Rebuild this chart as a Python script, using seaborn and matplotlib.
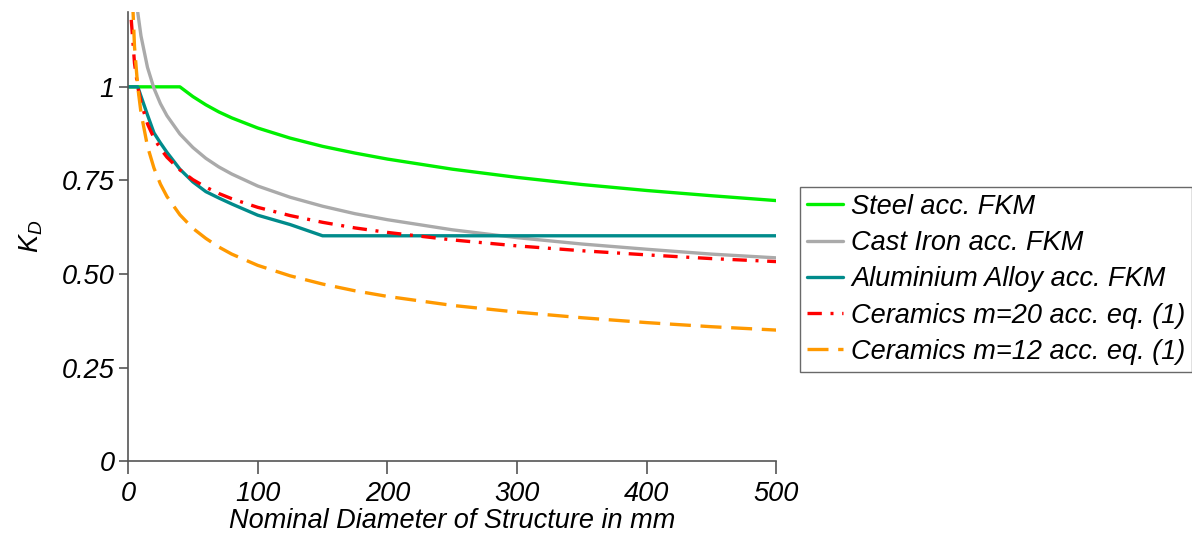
import matplotlib
matplotlib.use("Agg")
import matplotlib.pyplot as plt
import pandas as pd
import seaborn as sns

# Values (K_D over nominal diameter in mm)
steel_d = [0, 10, 20, 30, 40, 50, 60, 70, 80, 100, 125, 150, 175, 200, 250, 300, 350, 400, 450, 500]
steel_k = [1.0, 1.0, 1.0, 1.0, 1.0, 0.974, 0.952, 0.933, 0.917, 0.890, 0.863, 0.841, 0.823, 0.807,
           0.780, 0.758, 0.739, 0.723, 0.709, 0.696]

iron_d = [5, 7.5, 10, 15, 20, 25, 30, 40, 50, 60, 70, 80, 100, 125, 150, 175, 200, 250, 300, 350, 400, 450, 500]
iron_k = [1.295, 1.199, 1.136, 1.052, 0.996, 0.955, 0.923, 0.874, 0.838, 0.809, 0.786, 0.767, 0.735,
          0.705, 0.681, 0.661, 0.645, 0.618, 0.597, 0.580, 0.566, 0.553, 0.543]

alu_d = [0, 7.5, 10, 15, 20, 25, 30, 40, 50, 60, 70, 80, 100, 125, 150, 200, 300, 400, 500]
alu_k = [1.0, 1.0, 0.975, 0.925, 0.877, 0.850, 0.825, 0.780, 0.746, 0.720, 0.703, 0.687, 0.657,
         0.632, 0.602, 0.602, 0.602, 0.602, 0.602]

cer_d = [2.5, 5, 7.5, 10, 15, 20, 25, 30, 40, 50, 60, 70, 80, 100, 125, 150, 175, 200, 250, 300, 350, 400, 450, 500]
cer20_k = [1.179, 1.063, 1.0, 0.958, 0.901, 0.863, 0.835, 0.812, 0.778, 0.752, 0.732, 0.715, 0.701,
           0.678, 0.656, 0.638, 0.623, 0.611, 0.591, 0.575, 0.562, 0.551, 0.541, 0.533]
cer12_k = [1.316, 1.107, 1.0, 0.931, 0.841, 0.783, 0.740, 0.707, 0.658, 0.622, 0.595, 0.572, 0.553,
           0.523, 0.495, 0.473, 0.455, 0.440, 0.416, 0.398, 0.383, 0.370, 0.359, 0.350]

labels = [
    "Steel acc. FKM",
    "Cast Iron acc. FKM",
    "Aluminium Alloy acc. FKM",
    "Ceramics m=20 acc. eq. (1)",
    "Ceramics m=12 acc. eq. (1)",
]
colors = ["#00f000", "#aaaaaa", "#008b8b", "#ff0000", "#ff9900"]

sns.set_style("ticks")
plt.rcParams["font.family"] = ["Liberation Sans", "DejaVu Sans"]
plt.rcParams["font.style"] = "italic"
plt.rcParams["text.color"] = "black"
plt.rcParams["axes.labelcolor"] = "black"
plt.rcParams["xtick.labelcolor"] = "black"
plt.rcParams["ytick.labelcolor"] = "black"
plt.rcParams["mathtext.fontset"] = "custom"
plt.rcParams["mathtext.it"] = "Liberation Sans:italic"
plt.rcParams["mathtext.rm"] = "Liberation Sans:italic"

fs = 19.5

fig = plt.figure(figsize=(11.92, 5.45), dpi=100)
ax = fig.add_axes([0.1074, 0.154, 0.544, 0.824])

series = [
    (steel_d, steel_k),
    (iron_d, iron_k),
    (alu_d, alu_k),
    (cer_d, cer20_k),
    (cer_d, cer12_k),
]
for (d, k), lab, col in zip(series, labels, colors):
    df = pd.DataFrame({"d": d, "k": k})
    sns.lineplot(data=df, x="d", y="k", ax=ax, color=col, linewidth=2.4, label=lab)

lines = ax.get_lines()
lines[3].set_dashes([4.3, 2.6, 0.9, 2.6])
lines[4].set_dashes([6.3, 2.9])

ax.set_xlim(0, 500)
ax.set_ylim(0, 1.2)
ax.set_xticks([0, 100, 200, 300, 400, 500])
ax.set_yticks([0, 0.25, 0.5, 0.75, 1.0])
ax.set_yticklabels(["0", "0.25", "0.50", "0.75", "1"])
ax.set_xlabel("Nominal Diameter of Structure in mm", fontsize=fs, labelpad=1)
ax.set_ylabel(r"$K_D$", fontsize=fs, labelpad=12)

sns.despine(ax=ax)
for side in ["left", "bottom"]:
    ax.spines[side].set_color("#555555")
    ax.spines[side].set_linewidth(1.2)
ax.tick_params(axis="x", direction="out", length=9, width=1.2, color="#555555",
               labelsize=fs, pad=5)
ax.tick_params(axis="y", direction="out", length=6.5, width=1.2, color="#555555",
               labelsize=fs, pad=3)

leg = ax.legend(
    loc="upper left",
    bbox_to_anchor=(0.6711, 1 - 187 / 545),
    bbox_transform=fig.transFigure,
    fontsize=fs,
    frameon=True,
    fancybox=False,
    handlelength=1.35,
    handletextpad=0.3,
    labelspacing=0.38,
    borderpad=0.25,
    borderaxespad=0,
)
leg.get_frame().set_edgecolor("#444444")
leg.get_frame().set_linewidth(1.0)

fig.savefig("out.png", dpi=100)
